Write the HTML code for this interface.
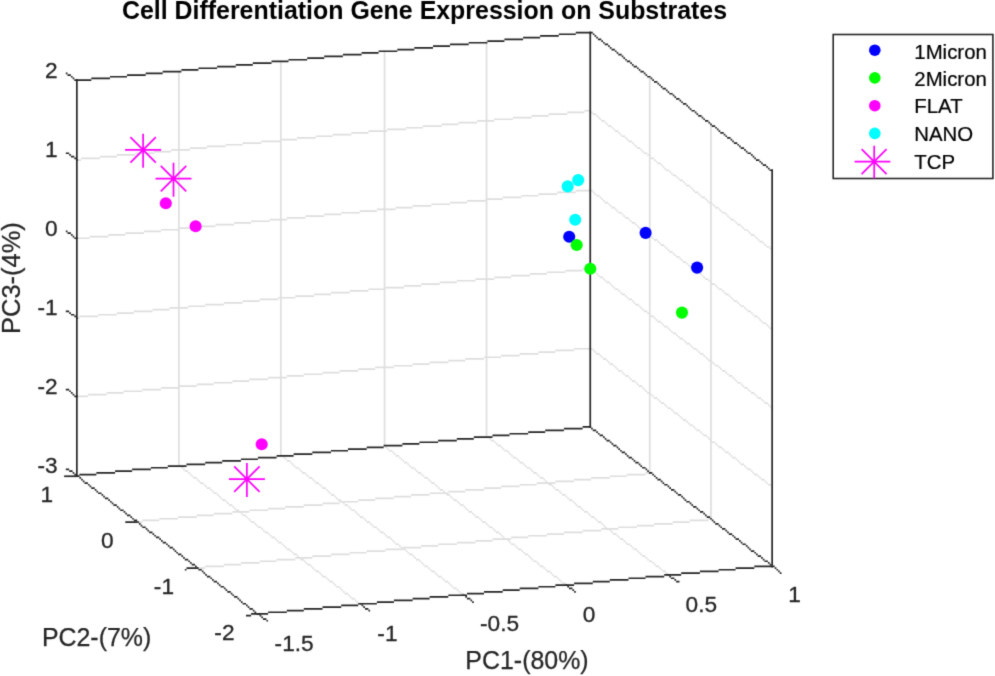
<!DOCTYPE html>
<html>
<head>
<meta charset="utf-8">
<title>Cell Differentiation Gene Expression on Substrates</title>
<style>
html,body{margin:0;padding:0;background:#fff;}
body{width:995px;height:676px;overflow:hidden;font-family:"Liberation Sans",sans-serif;}
svg{display:block;}
svg text{font-family:"Liberation Sans",sans-serif;fill:#262626;}
.g{stroke:#dfdfdf;stroke-width:1.6;fill:none;}
.b{stroke:#262626;stroke-width:1.6;fill:none;}
.gf{fill:#dedede;stroke:none;}
.bf{fill:#262626;stroke:none;}
.st{stroke-width:1.7;fill:none;}
.tl text{font-size:22.67px;stroke:#262626;stroke-width:0.3px;}
.al{font-size:24.93px;stroke:#262626;stroke-width:0.25px;}
.ti{font-size:24.93px;font-weight:bold;fill:#000;}
.lg{font-size:20.4px;fill:#000;stroke:#000;stroke-width:0.2px;}
</style>
</head>
<body>
<svg width="995" height="676" viewBox="0 0 995 676">
<defs><filter id="bl" x="0" y="0" width="100%" height="100%" filterUnits="userSpaceOnUse" color-interpolation-filters="sRGB"><feConvolveMatrix order="3" kernelMatrix="0.0169 0.0962 0.0169 0.0962 0.5476 0.0962 0.0169 0.0962 0.0169" divisor="1" edgeMode="duplicate" preserveAlpha="true"/></filter></defs>
<g filter="url(#bl)">
<rect x="-5" y="-5" width="1005" height="686" fill="#ffffff"/>
<g id="grid">
<path class="gf" d="M178 70.8h1.7v396.1h-1.7z"/>
<path class="gf" d="M280 60.6h1.7v396.1h-1.7z"/>
<path class="gf" d="M383.7 50.4h1.7v396.1h-1.7z"/>
<path class="gf" d="M485.7 40.2h1.7v397.8h-1.7z"/>
<path class="gf" d="M76 395.5h11.9v1.7h-11.9zM87.9 393.8h18.7v1.7h-18.7zM106.6 392.1h17v1.7h-17zM123.6 390.4h18.7v1.7h-18.7zM142.3 388.7h18.7v1.7h-18.7zM161 387h17v1.7h-17zM178 385.3h18.7v1.7h-18.7zM196.7 383.6h17v1.7h-17zM213.7 381.9h18.7v1.7h-18.7zM232.4 380.2h17v1.7h-17zM249.4 378.5h18.7v1.7h-18.7zM268.1 376.8h18.7v1.7h-18.7zM286.8 375.1h17v1.7h-17zM303.8 373.4h18.7v1.7h-18.7zM322.5 371.7h17v1.7h-17zM339.5 370h18.7v1.7h-18.7zM358.2 368.3h17v1.7h-17zM375.2 366.6h18.7v1.7h-18.7zM393.9 364.9h18.7v1.7h-18.7zM412.6 363.2h17v1.7h-17zM429.6 361.5h18.7v1.7h-18.7zM448.3 359.8h17v1.7h-17zM465.3 358.1h18.7v1.7h-18.7zM484 356.4h17v1.7h-17zM501 354.7h18.7v1.7h-18.7zM519.7 353h18.7v1.7h-18.7zM538.4 351.3h17v1.7h-17zM555.4 349.6h18.7v1.7h-18.7zM574.1 347.9h17v1.7h-17z"/>
<path class="gf" d="M76 317.3h3.4v1.7h-3.4zM79.4 315.6h18.7v1.7h-18.7zM98.1 313.9h18.7v1.7h-18.7zM116.8 312.2h17v1.7h-17zM133.8 310.5h18.7v1.7h-18.7zM152.5 308.8h17v1.7h-17zM169.5 307.1h18.7v1.7h-18.7zM188.2 305.4h17v1.7h-17zM205.2 303.7h18.7v1.7h-18.7zM223.9 302h18.7v1.7h-18.7zM242.6 300.3h17v1.7h-17zM259.6 298.6h18.7v1.7h-18.7zM278.3 296.9h17v1.7h-17zM295.3 295.2h18.7v1.7h-18.7zM314 293.5h17v1.7h-17zM331 291.8h18.7v1.7h-18.7zM349.7 290.1h18.7v1.7h-18.7zM368.4 288.4h17v1.7h-17zM385.4 286.7h18.7v1.7h-18.7zM404.1 285h17v1.7h-17zM421.1 283.3h18.7v1.7h-18.7zM439.8 281.6h17v1.7h-17zM456.8 279.9h18.7v1.7h-18.7zM475.5 278.2h18.7v1.7h-18.7zM494.2 276.5h17v1.7h-17zM511.2 274.8h18.7v1.7h-18.7zM529.9 273.1h17v1.7h-17zM546.9 271.4h18.7v1.7h-18.7zM565.6 269.7h17v1.7h-17zM582.6 268h8.5v1.7h-8.5z"/>
<path class="gf" d="M76 237.4h13.6v1.7h-13.6zM89.6 235.7h18.7v1.7h-18.7zM108.3 234h17v1.7h-17zM125.3 232.3h18.7v1.7h-18.7zM144 230.6h17v1.7h-17zM161 228.9h18.7v1.7h-18.7zM179.7 227.2h18.7v1.7h-18.7zM198.4 225.5h17v1.7h-17zM215.4 223.8h18.7v1.7h-18.7zM234.1 222.1h17v1.7h-17zM251.1 220.4h18.7v1.7h-18.7zM269.8 218.7h17v1.7h-17zM286.8 217h18.7v1.7h-18.7zM305.5 215.3h18.7v1.7h-18.7zM324.2 213.6h17v1.7h-17zM341.2 211.9h18.7v1.7h-18.7zM359.9 210.2h17v1.7h-17zM376.9 208.5h18.7v1.7h-18.7zM395.6 206.8h17v1.7h-17zM412.6 205.1h18.7v1.7h-18.7zM431.3 203.4h18.7v1.7h-18.7zM450 201.7h17v1.7h-17zM467 200h18.7v1.7h-18.7zM485.7 198.3h17v1.7h-17zM502.7 196.6h18.7v1.7h-18.7zM521.4 194.9h17v1.7h-17zM538.4 193.2h18.7v1.7h-18.7zM557.1 191.5h18.7v1.7h-18.7zM575.8 189.8h15.3v1.7h-15.3z"/>
<path class="gf" d="M76 159.2h5.1v1.7h-5.1zM81.1 157.5h18.7v1.7h-18.7zM99.8 155.8h17v1.7h-17zM116.8 154.1h18.7v1.7h-18.7zM135.5 152.4h18.7v1.7h-18.7zM154.2 150.7h17v1.7h-17zM171.2 149h18.7v1.7h-18.7zM189.9 147.3h17v1.7h-17zM206.9 145.6h18.7v1.7h-18.7zM225.6 143.9h17v1.7h-17zM242.6 142.2h18.7v1.7h-18.7zM261.3 140.5h18.7v1.7h-18.7zM280 138.8h17v1.7h-17zM297 137.1h18.7v1.7h-18.7zM315.7 135.4h17v1.7h-17zM332.7 133.7h18.7v1.7h-18.7zM351.4 132h17v1.7h-17zM368.4 130.3h18.7v1.7h-18.7zM387.1 128.6h18.7v1.7h-18.7zM405.8 126.9h17v1.7h-17zM422.8 125.2h18.7v1.7h-18.7zM441.5 123.5h17v1.7h-17zM458.5 121.8h18.7v1.7h-18.7zM477.2 120.1h17v1.7h-17zM494.2 118.4h18.7v1.7h-18.7zM512.9 116.7h18.7v1.7h-18.7zM531.6 115h17v1.7h-17zM548.6 113.3h18.7v1.7h-18.7zM567.3 111.6h17v1.7h-17zM584.3 109.9h6.8v1.7h-6.8z"/>
<path class="gf" d="M648.9 77.6h1.7v396.1h-1.7z"/>
<path class="gf" d="M710.1 123.5h1.7v396.1h-1.7z"/>
<path class="gf" d="M589.4 347.9h3.4v1.7h-3.4zM592.8 349.6h1.7v1.7h-1.7zM594.5 351.3h1.7v1.7h-1.7zM596.2 353h3.4v1.7h-3.4zM599.6 354.7h1.7v1.7h-1.7zM601.3 356.4h1.7v1.7h-1.7zM603 358.1h3.4v1.7h-3.4zM606.4 359.8h1.7v1.7h-1.7zM608.1 361.5h1.7v1.7h-1.7zM609.8 363.2h3.4v1.7h-3.4zM613.2 364.9h1.7v1.7h-1.7zM614.9 366.6h1.7v1.7h-1.7zM616.6 368.3h1.7v1.7h-1.7zM618.3 370h3.4v1.7h-3.4zM621.7 371.7h1.7v1.7h-1.7zM623.4 373.4h1.7v1.7h-1.7zM625.1 375.1h3.4v1.7h-3.4zM628.5 376.8h1.7v1.7h-1.7zM630.2 378.5h1.7v1.7h-1.7zM631.9 380.2h3.4v1.7h-3.4zM635.3 381.9h1.7v1.7h-1.7zM637 383.6h1.7v1.7h-1.7zM638.7 385.3h3.4v1.7h-3.4zM642.1 387h1.7v1.7h-1.7zM643.8 388.7h1.7v1.7h-1.7zM645.5 390.4h1.7v1.7h-1.7zM647.2 392.1h3.4v1.7h-3.4zM650.6 393.8h1.7v1.7h-1.7zM652.3 395.5h1.7v1.7h-1.7zM654 397.2h3.4v1.7h-3.4zM657.4 398.9h1.7v1.7h-1.7zM659.1 400.6h1.7v1.7h-1.7zM660.8 402.3h3.4v1.7h-3.4zM664.2 404h1.7v1.7h-1.7zM665.9 405.7h1.7v1.7h-1.7zM667.6 407.4h3.4v1.7h-3.4zM671 409.1h1.7v1.7h-1.7zM672.7 410.8h1.7v1.7h-1.7zM674.4 412.5h3.4v1.7h-3.4zM677.8 414.2h1.7v1.7h-1.7zM679.5 415.9h1.7v1.7h-1.7zM681.2 417.6h1.7v1.7h-1.7zM682.9 419.3h3.4v1.7h-3.4zM686.3 421h1.7v1.7h-1.7zM688 422.7h1.7v1.7h-1.7zM689.7 424.4h3.4v1.7h-3.4zM693.1 426.1h1.7v1.7h-1.7zM694.8 427.8h1.7v1.7h-1.7zM696.5 429.5h3.4v1.7h-3.4zM699.9 431.2h1.7v1.7h-1.7zM701.6 432.9h1.7v1.7h-1.7zM703.3 434.6h3.4v1.7h-3.4zM706.7 436.3h1.7v1.7h-1.7zM708.4 438h1.7v1.7h-1.7zM710.1 439.7h1.7v1.7h-1.7zM711.8 441.4h3.4v1.7h-3.4zM715.2 443.1h1.7v1.7h-1.7zM716.9 444.8h1.7v1.7h-1.7zM718.6 446.5h3.4v1.7h-3.4zM722 448.2h1.7v1.7h-1.7zM723.7 449.9h1.7v1.7h-1.7zM725.4 451.6h3.4v1.7h-3.4zM728.8 453.3h1.7v1.7h-1.7zM730.5 455h1.7v1.7h-1.7zM732.2 456.7h3.4v1.7h-3.4zM735.6 458.4h1.7v1.7h-1.7zM737.3 460.1h1.7v1.7h-1.7zM739 461.8h1.7v1.7h-1.7zM740.7 463.5h3.4v1.7h-3.4zM744.1 465.2h1.7v1.7h-1.7zM745.8 466.9h1.7v1.7h-1.7zM747.5 468.6h3.4v1.7h-3.4zM750.9 470.3h1.7v1.7h-1.7zM752.6 472h1.7v1.7h-1.7zM754.3 473.7h3.4v1.7h-3.4zM757.7 475.4h1.7v1.7h-1.7zM759.4 477.1h1.7v1.7h-1.7zM761.1 478.8h3.4v1.7h-3.4zM764.5 480.5h1.7v1.7h-1.7zM766.2 482.2h1.7v1.7h-1.7zM767.9 483.9h3.4v1.7h-3.4zM771.3 485.6h1.7v1.7h-1.7z"/>
<path class="gf" d="M589.4 268h1.7v1.7h-1.7zM591.1 269.7h1.7v1.7h-1.7zM592.8 271.4h3.4v1.7h-3.4zM596.2 273.1h1.7v1.7h-1.7zM597.9 274.8h1.7v1.7h-1.7zM599.6 276.5h3.4v1.7h-3.4zM603 278.2h1.7v1.7h-1.7zM604.7 279.9h1.7v1.7h-1.7zM606.4 281.6h3.4v1.7h-3.4zM609.8 283.3h1.7v1.7h-1.7zM611.5 285h1.7v1.7h-1.7zM613.2 286.7h1.7v1.7h-1.7zM614.9 288.4h3.4v1.7h-3.4zM618.3 290.1h1.7v1.7h-1.7zM620 291.8h1.7v1.7h-1.7zM621.7 293.5h3.4v1.7h-3.4zM625.1 295.2h1.7v1.7h-1.7zM626.8 296.9h1.7v1.7h-1.7zM628.5 298.6h3.4v1.7h-3.4zM631.9 300.3h1.7v1.7h-1.7zM633.6 302h1.7v1.7h-1.7zM635.3 303.7h3.4v1.7h-3.4zM638.7 305.4h1.7v1.7h-1.7zM640.4 307.1h1.7v1.7h-1.7zM642.1 308.8h1.7v1.7h-1.7zM643.8 310.5h3.4v1.7h-3.4zM647.2 312.2h1.7v1.7h-1.7zM648.9 313.9h1.7v1.7h-1.7zM650.6 315.6h3.4v1.7h-3.4zM654 317.3h1.7v1.7h-1.7zM655.7 319h1.7v1.7h-1.7zM657.4 320.7h3.4v1.7h-3.4zM660.8 322.4h1.7v1.7h-1.7zM662.5 324.1h1.7v1.7h-1.7zM664.2 325.8h3.4v1.7h-3.4zM667.6 327.5h1.7v1.7h-1.7zM669.3 329.2h1.7v1.7h-1.7zM671 330.9h1.7v1.7h-1.7zM672.7 332.6h3.4v1.7h-3.4zM676.1 334.3h1.7v1.7h-1.7zM677.8 336h1.7v1.7h-1.7zM679.5 337.7h3.4v1.7h-3.4zM682.9 339.4h1.7v1.7h-1.7zM684.6 341.1h1.7v1.7h-1.7zM686.3 342.8h3.4v1.7h-3.4zM689.7 344.5h1.7v1.7h-1.7zM691.4 346.2h1.7v1.7h-1.7zM693.1 347.9h3.4v1.7h-3.4zM696.5 349.6h1.7v1.7h-1.7zM698.2 351.3h1.7v1.7h-1.7zM699.9 353h3.4v1.7h-3.4zM703.3 354.7h1.7v1.7h-1.7zM705 356.4h1.7v1.7h-1.7zM706.7 358.1h1.7v1.7h-1.7zM708.4 359.8h3.4v1.7h-3.4zM711.8 361.5h1.7v1.7h-1.7zM713.5 363.2h1.7v1.7h-1.7zM715.2 364.9h3.4v1.7h-3.4zM718.6 366.6h1.7v1.7h-1.7zM720.3 368.3h1.7v1.7h-1.7zM722 370h3.4v1.7h-3.4zM725.4 371.7h1.7v1.7h-1.7zM727.1 373.4h1.7v1.7h-1.7zM728.8 375.1h3.4v1.7h-3.4zM732.2 376.8h1.7v1.7h-1.7zM733.9 378.5h1.7v1.7h-1.7zM735.6 380.2h1.7v1.7h-1.7zM737.3 381.9h3.4v1.7h-3.4zM740.7 383.6h1.7v1.7h-1.7zM742.4 385.3h1.7v1.7h-1.7zM744.1 387h3.4v1.7h-3.4zM747.5 388.7h1.7v1.7h-1.7zM749.2 390.4h1.7v1.7h-1.7zM750.9 392.1h3.4v1.7h-3.4zM754.3 393.8h1.7v1.7h-1.7zM756 395.5h1.7v1.7h-1.7zM757.7 397.2h3.4v1.7h-3.4zM761.1 398.9h1.7v1.7h-1.7zM762.8 400.6h1.7v1.7h-1.7zM764.5 402.3h3.4v1.7h-3.4zM767.9 404h1.7v1.7h-1.7zM769.6 405.7h1.7v1.7h-1.7zM771.3 407.4h1.7v1.7h-1.7z"/>
<path class="gf" d="M589.4 189.8h3.4v1.7h-3.4zM592.8 191.5h1.7v1.7h-1.7zM594.5 193.2h1.7v1.7h-1.7zM596.2 194.9h3.4v1.7h-3.4zM599.6 196.6h1.7v1.7h-1.7zM601.3 198.3h1.7v1.7h-1.7zM603 200h1.7v1.7h-1.7zM604.7 201.7h3.4v1.7h-3.4zM608.1 203.4h1.7v1.7h-1.7zM609.8 205.1h1.7v1.7h-1.7zM611.5 206.8h3.4v1.7h-3.4zM614.9 208.5h1.7v1.7h-1.7zM616.6 210.2h1.7v1.7h-1.7zM618.3 211.9h3.4v1.7h-3.4zM621.7 213.6h1.7v1.7h-1.7zM623.4 215.3h1.7v1.7h-1.7zM625.1 217h3.4v1.7h-3.4zM628.5 218.7h1.7v1.7h-1.7zM630.2 220.4h1.7v1.7h-1.7zM631.9 222.1h3.4v1.7h-3.4zM635.3 223.8h1.7v1.7h-1.7zM637 225.5h1.7v1.7h-1.7zM638.7 227.2h1.7v1.7h-1.7zM640.4 228.9h3.4v1.7h-3.4zM643.8 230.6h1.7v1.7h-1.7zM645.5 232.3h1.7v1.7h-1.7zM647.2 234h3.4v1.7h-3.4zM650.6 235.7h1.7v1.7h-1.7zM652.3 237.4h1.7v1.7h-1.7zM654 239.1h3.4v1.7h-3.4zM657.4 240.8h1.7v1.7h-1.7zM659.1 242.5h1.7v1.7h-1.7zM660.8 244.2h3.4v1.7h-3.4zM664.2 245.9h1.7v1.7h-1.7zM665.9 247.6h1.7v1.7h-1.7zM667.6 249.3h1.7v1.7h-1.7zM669.3 251h3.4v1.7h-3.4zM672.7 252.7h1.7v1.7h-1.7zM674.4 254.4h1.7v1.7h-1.7zM676.1 256.1h3.4v1.7h-3.4zM679.5 257.8h1.7v1.7h-1.7zM681.2 259.5h1.7v1.7h-1.7zM682.9 261.2h3.4v1.7h-3.4zM686.3 262.9h1.7v1.7h-1.7zM688 264.6h1.7v1.7h-1.7zM689.7 266.3h3.4v1.7h-3.4zM693.1 268h1.7v1.7h-1.7zM694.8 269.7h1.7v1.7h-1.7zM696.5 271.4h3.4v1.7h-3.4zM699.9 273.1h1.7v1.7h-1.7zM701.6 274.8h1.7v1.7h-1.7zM703.3 276.5h1.7v1.7h-1.7zM705 278.2h3.4v1.7h-3.4zM708.4 279.9h1.7v1.7h-1.7zM710.1 281.6h1.7v1.7h-1.7zM711.8 283.3h3.4v1.7h-3.4zM715.2 285h1.7v1.7h-1.7zM716.9 286.7h1.7v1.7h-1.7zM718.6 288.4h3.4v1.7h-3.4zM722 290.1h1.7v1.7h-1.7zM723.7 291.8h1.7v1.7h-1.7zM725.4 293.5h3.4v1.7h-3.4zM728.8 295.2h1.7v1.7h-1.7zM730.5 296.9h1.7v1.7h-1.7zM732.2 298.6h1.7v1.7h-1.7zM733.9 300.3h3.4v1.7h-3.4zM737.3 302h1.7v1.7h-1.7zM739 303.7h1.7v1.7h-1.7zM740.7 305.4h3.4v1.7h-3.4zM744.1 307.1h1.7v1.7h-1.7zM745.8 308.8h1.7v1.7h-1.7zM747.5 310.5h3.4v1.7h-3.4zM750.9 312.2h1.7v1.7h-1.7zM752.6 313.9h1.7v1.7h-1.7zM754.3 315.6h3.4v1.7h-3.4zM757.7 317.3h1.7v1.7h-1.7zM759.4 319h1.7v1.7h-1.7zM761.1 320.7h1.7v1.7h-1.7zM762.8 322.4h3.4v1.7h-3.4zM766.2 324.1h1.7v1.7h-1.7zM767.9 325.8h1.7v1.7h-1.7zM769.6 327.5h3.4v1.7h-3.4z"/>
<path class="gf" d="M589.4 109.9h1.7v1.7h-1.7zM591.1 111.6h1.7v1.7h-1.7zM592.8 113.3h3.4v1.7h-3.4zM596.2 115h1.7v1.7h-1.7zM597.9 116.7h1.7v1.7h-1.7zM599.6 118.4h1.7v1.7h-1.7zM601.3 120.1h3.4v1.7h-3.4zM604.7 121.8h1.7v1.7h-1.7zM606.4 123.5h1.7v1.7h-1.7zM608.1 125.2h3.4v1.7h-3.4zM611.5 126.9h1.7v1.7h-1.7zM613.2 128.6h1.7v1.7h-1.7zM614.9 130.3h3.4v1.7h-3.4zM618.3 132h1.7v1.7h-1.7zM620 133.7h1.7v1.7h-1.7zM621.7 135.4h3.4v1.7h-3.4zM625.1 137.1h1.7v1.7h-1.7zM626.8 138.8h1.7v1.7h-1.7zM628.5 140.5h3.4v1.7h-3.4zM631.9 142.2h1.7v1.7h-1.7zM633.6 143.9h1.7v1.7h-1.7zM635.3 145.6h1.7v1.7h-1.7zM637 147.3h3.4v1.7h-3.4zM640.4 149h1.7v1.7h-1.7zM642.1 150.7h1.7v1.7h-1.7zM643.8 152.4h3.4v1.7h-3.4zM647.2 154.1h1.7v1.7h-1.7zM648.9 155.8h1.7v1.7h-1.7zM650.6 157.5h3.4v1.7h-3.4zM654 159.2h1.7v1.7h-1.7zM655.7 160.9h1.7v1.7h-1.7zM657.4 162.6h3.4v1.7h-3.4zM660.8 164.3h1.7v1.7h-1.7zM662.5 166h1.7v1.7h-1.7zM664.2 167.7h1.7v1.7h-1.7zM665.9 169.4h3.4v1.7h-3.4zM669.3 171.1h1.7v1.7h-1.7zM671 172.8h1.7v1.7h-1.7zM672.7 174.5h3.4v1.7h-3.4zM676.1 176.2h1.7v1.7h-1.7zM677.8 177.9h1.7v1.7h-1.7zM679.5 179.6h3.4v1.7h-3.4zM682.9 181.3h1.7v1.7h-1.7zM684.6 183h1.7v1.7h-1.7zM686.3 184.7h3.4v1.7h-3.4zM689.7 186.4h1.7v1.7h-1.7zM691.4 188.1h1.7v1.7h-1.7zM693.1 189.8h1.7v1.7h-1.7zM694.8 191.5h3.4v1.7h-3.4zM698.2 193.2h1.7v1.7h-1.7zM699.9 194.9h1.7v1.7h-1.7zM701.6 196.6h3.4v1.7h-3.4zM705 198.3h1.7v1.7h-1.7zM706.7 200h1.7v1.7h-1.7zM708.4 201.7h3.4v1.7h-3.4zM711.8 203.4h1.7v1.7h-1.7zM713.5 205.1h1.7v1.7h-1.7zM715.2 206.8h3.4v1.7h-3.4zM718.6 208.5h1.7v1.7h-1.7zM720.3 210.2h1.7v1.7h-1.7zM722 211.9h3.4v1.7h-3.4zM725.4 213.6h1.7v1.7h-1.7zM727.1 215.3h1.7v1.7h-1.7zM728.8 217h1.7v1.7h-1.7zM730.5 218.7h3.4v1.7h-3.4zM733.9 220.4h1.7v1.7h-1.7zM735.6 222.1h1.7v1.7h-1.7zM737.3 223.8h3.4v1.7h-3.4zM740.7 225.5h1.7v1.7h-1.7zM742.4 227.2h1.7v1.7h-1.7zM744.1 228.9h3.4v1.7h-3.4zM747.5 230.6h1.7v1.7h-1.7zM749.2 232.3h1.7v1.7h-1.7zM750.9 234h3.4v1.7h-3.4zM754.3 235.7h1.7v1.7h-1.7zM756 237.4h1.7v1.7h-1.7zM757.7 239.1h1.7v1.7h-1.7zM759.4 240.8h3.4v1.7h-3.4zM762.8 242.5h1.7v1.7h-1.7zM764.5 244.2h1.7v1.7h-1.7zM766.2 245.9h3.4v1.7h-3.4zM769.6 247.6h1.7v1.7h-1.7zM771.3 249.3h1.7v1.7h-1.7z"/>
<path class="gf" d="M178 465.2h3.4v1.7h-3.4zM181.4 466.9h1.7v1.7h-1.7zM183.1 468.6h1.7v1.7h-1.7zM184.8 470.3h3.4v1.7h-3.4zM188.2 472h1.7v1.7h-1.7zM189.9 473.7h1.7v1.7h-1.7zM191.6 475.4h1.7v1.7h-1.7zM193.3 477.1h3.4v1.7h-3.4zM196.7 478.8h1.7v1.7h-1.7zM198.4 480.5h1.7v1.7h-1.7zM200.1 482.2h3.4v1.7h-3.4zM203.5 483.9h1.7v1.7h-1.7zM205.2 485.6h1.7v1.7h-1.7zM206.9 487.3h3.4v1.7h-3.4zM210.3 489h1.7v1.7h-1.7zM212 490.7h1.7v1.7h-1.7zM213.7 492.4h3.4v1.7h-3.4zM217.1 494.1h1.7v1.7h-1.7zM218.8 495.8h1.7v1.7h-1.7zM220.5 497.5h1.7v1.7h-1.7zM222.2 499.2h3.4v1.7h-3.4zM225.6 500.9h1.7v1.7h-1.7zM227.3 502.6h1.7v1.7h-1.7zM229 504.3h3.4v1.7h-3.4zM232.4 506h1.7v1.7h-1.7zM234.1 507.7h1.7v1.7h-1.7zM235.8 509.4h3.4v1.7h-3.4zM239.2 511.1h1.7v1.7h-1.7zM240.9 512.8h1.7v1.7h-1.7zM242.6 514.5h3.4v1.7h-3.4zM246 516.2h1.7v1.7h-1.7zM247.7 517.9h1.7v1.7h-1.7zM249.4 519.6h1.7v1.7h-1.7zM251.1 521.3h3.4v1.7h-3.4zM254.5 523h1.7v1.7h-1.7zM256.2 524.7h1.7v1.7h-1.7zM257.9 526.4h3.4v1.7h-3.4zM261.3 528.1h1.7v1.7h-1.7zM263 529.8h1.7v1.7h-1.7zM264.7 531.5h3.4v1.7h-3.4zM268.1 533.2h1.7v1.7h-1.7zM269.8 534.9h1.7v1.7h-1.7zM271.5 536.6h3.4v1.7h-3.4zM274.9 538.3h1.7v1.7h-1.7zM276.6 540h1.7v1.7h-1.7zM278.3 541.7h3.4v1.7h-3.4zM281.7 543.4h1.7v1.7h-1.7zM283.4 545.1h1.7v1.7h-1.7zM285.1 546.8h1.7v1.7h-1.7zM286.8 548.5h3.4v1.7h-3.4zM290.2 550.2h1.7v1.7h-1.7zM291.9 551.9h1.7v1.7h-1.7zM293.6 553.6h3.4v1.7h-3.4zM297 555.3h1.7v1.7h-1.7zM298.7 557h1.7v1.7h-1.7zM300.4 558.7h3.4v1.7h-3.4zM303.8 560.4h1.7v1.7h-1.7zM305.5 562.1h1.7v1.7h-1.7zM307.2 563.8h3.4v1.7h-3.4zM310.6 565.5h1.7v1.7h-1.7zM312.3 567.2h1.7v1.7h-1.7zM314 568.9h1.7v1.7h-1.7zM315.7 570.6h3.4v1.7h-3.4zM319.1 572.3h1.7v1.7h-1.7zM320.8 574h1.7v1.7h-1.7zM322.5 575.7h3.4v1.7h-3.4zM325.9 577.4h1.7v1.7h-1.7zM327.6 579.1h1.7v1.7h-1.7zM329.3 580.8h3.4v1.7h-3.4zM332.7 582.5h1.7v1.7h-1.7zM334.4 584.2h1.7v1.7h-1.7zM336.1 585.9h3.4v1.7h-3.4zM339.5 587.6h1.7v1.7h-1.7zM341.2 589.3h1.7v1.7h-1.7zM342.9 591h1.7v1.7h-1.7zM344.6 592.7h3.4v1.7h-3.4zM348 594.4h1.7v1.7h-1.7zM349.7 596.1h1.7v1.7h-1.7zM351.4 597.8h3.4v1.7h-3.4zM354.8 599.5h1.7v1.7h-1.7zM356.5 601.2h1.7v1.7h-1.7zM358.2 602.9h3.4v1.7h-3.4z"/>
<path class="gf" d="M281.7 455h1.7v1.7h-1.7zM283.4 456.7h1.7v1.7h-1.7zM285.1 458.4h1.7v1.7h-1.7zM286.8 460.1h3.4v1.7h-3.4zM290.2 461.8h1.7v1.7h-1.7zM291.9 463.5h1.7v1.7h-1.7zM293.6 465.2h1.7v1.7h-1.7zM295.3 466.9h3.4v1.7h-3.4zM298.7 468.6h1.7v1.7h-1.7zM300.4 470.3h1.7v1.7h-1.7zM302.1 472h3.4v1.7h-3.4zM305.5 473.7h1.7v1.7h-1.7zM307.2 475.4h1.7v1.7h-1.7zM308.9 477.1h3.4v1.7h-3.4zM312.3 478.8h1.7v1.7h-1.7zM314 480.5h1.7v1.7h-1.7zM315.7 482.2h3.4v1.7h-3.4zM319.1 483.9h1.7v1.7h-1.7zM320.8 485.6h1.7v1.7h-1.7zM322.5 487.3h3.4v1.7h-3.4zM325.9 489h1.7v1.7h-1.7zM327.6 490.7h1.7v1.7h-1.7zM329.3 492.4h1.7v1.7h-1.7zM331 494.1h3.4v1.7h-3.4zM334.4 495.8h1.7v1.7h-1.7zM336.1 497.5h1.7v1.7h-1.7zM337.8 499.2h3.4v1.7h-3.4zM341.2 500.9h1.7v1.7h-1.7zM342.9 502.6h1.7v1.7h-1.7zM344.6 504.3h3.4v1.7h-3.4zM348 506h1.7v1.7h-1.7zM349.7 507.7h1.7v1.7h-1.7zM351.4 509.4h3.4v1.7h-3.4zM354.8 511.1h1.7v1.7h-1.7zM356.5 512.8h1.7v1.7h-1.7zM358.2 514.5h1.7v1.7h-1.7zM359.9 516.2h3.4v1.7h-3.4zM363.3 517.9h1.7v1.7h-1.7zM365 519.6h1.7v1.7h-1.7zM366.7 521.3h3.4v1.7h-3.4zM370.1 523h1.7v1.7h-1.7zM371.8 524.7h1.7v1.7h-1.7zM373.5 526.4h3.4v1.7h-3.4zM376.9 528.1h1.7v1.7h-1.7zM378.6 529.8h1.7v1.7h-1.7zM380.3 531.5h3.4v1.7h-3.4zM383.7 533.2h1.7v1.7h-1.7zM385.4 534.9h1.7v1.7h-1.7zM387.1 536.6h3.4v1.7h-3.4zM390.5 538.3h1.7v1.7h-1.7zM392.2 540h1.7v1.7h-1.7zM393.9 541.7h1.7v1.7h-1.7zM395.6 543.4h3.4v1.7h-3.4zM399 545.1h1.7v1.7h-1.7zM400.7 546.8h1.7v1.7h-1.7zM402.4 548.5h3.4v1.7h-3.4zM405.8 550.2h1.7v1.7h-1.7zM407.5 551.9h1.7v1.7h-1.7zM409.2 553.6h3.4v1.7h-3.4zM412.6 555.3h1.7v1.7h-1.7zM414.3 557h1.7v1.7h-1.7zM416 558.7h3.4v1.7h-3.4zM419.4 560.4h1.7v1.7h-1.7zM421.1 562.1h1.7v1.7h-1.7zM422.8 563.8h1.7v1.7h-1.7zM424.5 565.5h3.4v1.7h-3.4zM427.9 567.2h1.7v1.7h-1.7zM429.6 568.9h1.7v1.7h-1.7zM431.3 570.6h3.4v1.7h-3.4zM434.7 572.3h1.7v1.7h-1.7zM436.4 574h1.7v1.7h-1.7zM438.1 575.7h3.4v1.7h-3.4zM441.5 577.4h1.7v1.7h-1.7zM443.2 579.1h1.7v1.7h-1.7zM444.9 580.8h3.4v1.7h-3.4zM448.3 582.5h1.7v1.7h-1.7zM450 584.2h1.7v1.7h-1.7zM451.7 585.9h1.7v1.7h-1.7zM453.4 587.6h3.4v1.7h-3.4zM456.8 589.3h1.7v1.7h-1.7zM458.5 591h1.7v1.7h-1.7zM460.2 592.7h3.4v1.7h-3.4z"/>
<path class="gf" d="M383.7 444.8h1.7v1.7h-1.7zM385.4 446.5h1.7v1.7h-1.7zM387.1 448.2h1.7v1.7h-1.7zM388.8 449.9h3.4v1.7h-3.4zM392.2 451.6h1.7v1.7h-1.7zM393.9 453.3h1.7v1.7h-1.7zM395.6 455h3.4v1.7h-3.4zM399 456.7h1.7v1.7h-1.7zM400.7 458.4h1.7v1.7h-1.7zM402.4 460.1h1.7v1.7h-1.7zM404.1 461.8h3.4v1.7h-3.4zM407.5 463.5h1.7v1.7h-1.7zM409.2 465.2h1.7v1.7h-1.7zM410.9 466.9h3.4v1.7h-3.4zM414.3 468.6h1.7v1.7h-1.7zM416 470.3h1.7v1.7h-1.7zM417.7 472h3.4v1.7h-3.4zM421.1 473.7h1.7v1.7h-1.7zM422.8 475.4h1.7v1.7h-1.7zM424.5 477.1h3.4v1.7h-3.4zM427.9 478.8h1.7v1.7h-1.7zM429.6 480.5h1.7v1.7h-1.7zM431.3 482.2h3.4v1.7h-3.4zM434.7 483.9h1.7v1.7h-1.7zM436.4 485.6h1.7v1.7h-1.7zM438.1 487.3h1.7v1.7h-1.7zM439.8 489h3.4v1.7h-3.4zM443.2 490.7h1.7v1.7h-1.7zM444.9 492.4h1.7v1.7h-1.7zM446.6 494.1h3.4v1.7h-3.4zM450 495.8h1.7v1.7h-1.7zM451.7 497.5h1.7v1.7h-1.7zM453.4 499.2h3.4v1.7h-3.4zM456.8 500.9h1.7v1.7h-1.7zM458.5 502.6h1.7v1.7h-1.7zM460.2 504.3h3.4v1.7h-3.4zM463.6 506h1.7v1.7h-1.7zM465.3 507.7h1.7v1.7h-1.7zM467 509.4h1.7v1.7h-1.7zM468.7 511.1h3.4v1.7h-3.4zM472.1 512.8h1.7v1.7h-1.7zM473.8 514.5h1.7v1.7h-1.7zM475.5 516.2h3.4v1.7h-3.4zM478.9 517.9h1.7v1.7h-1.7zM480.6 519.6h1.7v1.7h-1.7zM482.3 521.3h3.4v1.7h-3.4zM485.7 523h1.7v1.7h-1.7zM487.4 524.7h1.7v1.7h-1.7zM489.1 526.4h3.4v1.7h-3.4zM492.5 528.1h1.7v1.7h-1.7zM494.2 529.8h1.7v1.7h-1.7zM495.9 531.5h3.4v1.7h-3.4zM499.3 533.2h1.7v1.7h-1.7zM501 534.9h1.7v1.7h-1.7zM502.7 536.6h1.7v1.7h-1.7zM504.4 538.3h3.4v1.7h-3.4zM507.8 540h1.7v1.7h-1.7zM509.5 541.7h1.7v1.7h-1.7zM511.2 543.4h3.4v1.7h-3.4zM514.6 545.1h1.7v1.7h-1.7zM516.3 546.8h1.7v1.7h-1.7zM518 548.5h3.4v1.7h-3.4zM521.4 550.2h1.7v1.7h-1.7zM523.1 551.9h1.7v1.7h-1.7zM524.8 553.6h3.4v1.7h-3.4zM528.2 555.3h1.7v1.7h-1.7zM529.9 557h1.7v1.7h-1.7zM531.6 558.7h1.7v1.7h-1.7zM533.3 560.4h3.4v1.7h-3.4zM536.7 562.1h1.7v1.7h-1.7zM538.4 563.8h1.7v1.7h-1.7zM540.1 565.5h3.4v1.7h-3.4zM543.5 567.2h1.7v1.7h-1.7zM545.2 568.9h1.7v1.7h-1.7zM546.9 570.6h3.4v1.7h-3.4zM550.3 572.3h1.7v1.7h-1.7zM552 574h1.7v1.7h-1.7zM553.7 575.7h3.4v1.7h-3.4zM557.1 577.4h1.7v1.7h-1.7zM558.8 579.1h1.7v1.7h-1.7zM560.5 580.8h1.7v1.7h-1.7zM562.2 582.5h3.4v1.7h-3.4zM565.6 584.2h1.7v1.7h-1.7z"/>
<path class="gf" d="M487.4 436.3h1.7v1.7h-1.7zM489.1 438h1.7v1.7h-1.7zM490.8 439.7h3.4v1.7h-3.4zM494.2 441.4h1.7v1.7h-1.7zM495.9 443.1h1.7v1.7h-1.7zM497.6 444.8h3.4v1.7h-3.4zM501 446.5h1.7v1.7h-1.7zM502.7 448.2h1.7v1.7h-1.7zM504.4 449.9h3.4v1.7h-3.4zM507.8 451.6h1.7v1.7h-1.7zM509.5 453.3h1.7v1.7h-1.7zM511.2 455h1.7v1.7h-1.7zM512.9 456.7h3.4v1.7h-3.4zM516.3 458.4h1.7v1.7h-1.7zM518 460.1h1.7v1.7h-1.7zM519.7 461.8h3.4v1.7h-3.4zM523.1 463.5h1.7v1.7h-1.7zM524.8 465.2h1.7v1.7h-1.7zM526.5 466.9h3.4v1.7h-3.4zM529.9 468.6h1.7v1.7h-1.7zM531.6 470.3h1.7v1.7h-1.7zM533.3 472h3.4v1.7h-3.4zM536.7 473.7h1.7v1.7h-1.7zM538.4 475.4h1.7v1.7h-1.7zM540.1 477.1h3.4v1.7h-3.4zM543.5 478.8h1.7v1.7h-1.7zM545.2 480.5h1.7v1.7h-1.7zM546.9 482.2h1.7v1.7h-1.7zM548.6 483.9h3.4v1.7h-3.4zM552 485.6h1.7v1.7h-1.7zM553.7 487.3h1.7v1.7h-1.7zM555.4 489h3.4v1.7h-3.4zM558.8 490.7h1.7v1.7h-1.7zM560.5 492.4h1.7v1.7h-1.7zM562.2 494.1h3.4v1.7h-3.4zM565.6 495.8h1.7v1.7h-1.7zM567.3 497.5h1.7v1.7h-1.7zM569 499.2h3.4v1.7h-3.4zM572.4 500.9h1.7v1.7h-1.7zM574.1 502.6h1.7v1.7h-1.7zM575.8 504.3h1.7v1.7h-1.7zM577.5 506h3.4v1.7h-3.4zM580.9 507.7h1.7v1.7h-1.7zM582.6 509.4h1.7v1.7h-1.7zM584.3 511.1h3.4v1.7h-3.4zM587.7 512.8h1.7v1.7h-1.7zM589.4 514.5h1.7v1.7h-1.7zM591.1 516.2h3.4v1.7h-3.4zM594.5 517.9h1.7v1.7h-1.7zM596.2 519.6h1.7v1.7h-1.7zM597.9 521.3h3.4v1.7h-3.4zM601.3 523h1.7v1.7h-1.7zM603 524.7h1.7v1.7h-1.7zM604.7 526.4h1.7v1.7h-1.7zM606.4 528.1h3.4v1.7h-3.4zM609.8 529.8h1.7v1.7h-1.7zM611.5 531.5h1.7v1.7h-1.7zM613.2 533.2h3.4v1.7h-3.4zM616.6 534.9h1.7v1.7h-1.7zM618.3 536.6h1.7v1.7h-1.7zM620 538.3h3.4v1.7h-3.4zM623.4 540h1.7v1.7h-1.7zM625.1 541.7h1.7v1.7h-1.7zM626.8 543.4h3.4v1.7h-3.4zM630.2 545.1h1.7v1.7h-1.7zM631.9 546.8h1.7v1.7h-1.7zM633.6 548.5h3.4v1.7h-3.4zM637 550.2h1.7v1.7h-1.7zM638.7 551.9h1.7v1.7h-1.7zM640.4 553.6h1.7v1.7h-1.7zM642.1 555.3h3.4v1.7h-3.4zM645.5 557h1.7v1.7h-1.7zM647.2 558.7h1.7v1.7h-1.7zM648.9 560.4h3.4v1.7h-3.4zM652.3 562.1h1.7v1.7h-1.7zM654 563.8h1.7v1.7h-1.7zM655.7 565.5h3.4v1.7h-3.4zM659.1 567.2h1.7v1.7h-1.7zM660.8 568.9h1.7v1.7h-1.7zM662.5 570.6h3.4v1.7h-3.4zM665.9 572.3h1.7v1.7h-1.7zM667.6 574h1.7v1.7h-1.7z"/>
<path class="gf" d="M135.5 521.3h6.8v1.7h-6.8zM142.3 519.6h17v1.7h-17zM159.3 517.9h18.7v1.7h-18.7zM178 516.2h18.7v1.7h-18.7zM196.7 514.5h17v1.7h-17zM213.7 512.8h18.7v1.7h-18.7zM232.4 511.1h17v1.7h-17zM249.4 509.4h18.7v1.7h-18.7zM268.1 507.7h17v1.7h-17zM285.1 506h18.7v1.7h-18.7zM303.8 504.3h18.7v1.7h-18.7zM322.5 502.6h17v1.7h-17zM339.5 500.9h18.7v1.7h-18.7zM358.2 499.2h17v1.7h-17zM375.2 497.5h18.7v1.7h-18.7zM393.9 495.8h17v1.7h-17zM410.9 494.1h18.7v1.7h-18.7zM429.6 492.4h18.7v1.7h-18.7zM448.3 490.7h17v1.7h-17zM465.3 489h18.7v1.7h-18.7zM484 487.3h17v1.7h-17zM501 485.6h18.7v1.7h-18.7zM519.7 483.9h17v1.7h-17zM536.7 482.2h18.7v1.7h-18.7zM555.4 480.5h18.7v1.7h-18.7zM574.1 478.8h17v1.7h-17zM591.1 477.1h18.7v1.7h-18.7zM609.8 475.4h17v1.7h-17zM626.8 473.7h18.7v1.7h-18.7zM645.5 472h6.8v1.7h-6.8z"/>
<path class="gf" d="M196.7 567.2h8.5v1.7h-8.5zM205.2 565.5h18.7v1.7h-18.7zM223.9 563.8h17v1.7h-17zM240.9 562.1h18.7v1.7h-18.7zM259.6 560.4h17v1.7h-17zM276.6 558.7h18.7v1.7h-18.7zM295.3 557h17v1.7h-17zM312.3 555.3h18.7v1.7h-18.7zM331 553.6h18.7v1.7h-18.7zM349.7 551.9h17v1.7h-17zM366.7 550.2h18.7v1.7h-18.7zM385.4 548.5h17v1.7h-17zM402.4 546.8h18.7v1.7h-18.7zM421.1 545.1h17v1.7h-17zM438.1 543.4h18.7v1.7h-18.7zM456.8 541.7h18.7v1.7h-18.7zM475.5 540h17v1.7h-17zM492.5 538.3h18.7v1.7h-18.7zM511.2 536.6h17v1.7h-17zM528.2 534.9h18.7v1.7h-18.7zM546.9 533.2h17v1.7h-17zM563.9 531.5h18.7v1.7h-18.7zM582.6 529.8h18.7v1.7h-18.7zM601.3 528.1h17v1.7h-17zM618.3 526.4h18.7v1.7h-18.7zM637 524.7h17v1.7h-17zM654 523h18.7v1.7h-18.7zM672.7 521.3h17v1.7h-17zM689.7 519.6h18.7v1.7h-18.7zM708.4 517.9h3.4v1.7h-3.4z"/>
</g>
<g id="box">
<path class="bf" d="M76 79.3h15.3v1.7h-15.3zM91.3 77.6h18.7v1.7h-18.7zM110 75.9h17v1.7h-17zM127 74.2h18.7v1.7h-18.7zM145.7 72.5h17v1.7h-17zM162.7 70.8h18.7v1.7h-18.7zM181.4 69.1h17v1.7h-17zM198.4 67.4h18.7v1.7h-18.7zM217.1 65.7h18.7v1.7h-18.7zM235.8 64h17v1.7h-17zM252.8 62.3h18.7v1.7h-18.7zM271.5 60.6h17v1.7h-17zM288.5 58.9h18.7v1.7h-18.7zM307.2 57.2h17v1.7h-17zM324.2 55.5h18.7v1.7h-18.7zM342.9 53.8h18.7v1.7h-18.7zM361.6 52.1h17v1.7h-17zM378.6 50.4h18.7v1.7h-18.7zM397.3 48.7h17v1.7h-17zM414.3 47h18.7v1.7h-18.7zM433 45.3h17v1.7h-17zM450 43.6h18.7v1.7h-18.7zM468.7 41.9h18.7v1.7h-18.7zM487.4 40.2h17v1.7h-17zM504.4 38.5h18.7v1.7h-18.7zM523.1 36.8h17v1.7h-17zM540.1 35.1h18.7v1.7h-18.7zM558.8 33.4h17v1.7h-17zM575.8 31.7h15.3v1.7h-15.3z"/>
<path class="bf" d="M589.4 31.7h3.4v1.7h-3.4zM592.8 33.4h1.7v1.7h-1.7zM594.5 35.1h1.7v1.7h-1.7zM596.2 36.8h1.7v1.7h-1.7zM597.9 38.5h3.4v1.7h-3.4zM601.3 40.2h1.7v1.7h-1.7zM603 41.9h1.7v1.7h-1.7zM604.7 43.6h3.4v1.7h-3.4zM608.1 45.3h1.7v1.7h-1.7zM609.8 47h1.7v1.7h-1.7zM611.5 48.7h3.4v1.7h-3.4zM614.9 50.4h1.7v1.7h-1.7zM616.6 52.1h1.7v1.7h-1.7zM618.3 53.8h3.4v1.7h-3.4zM621.7 55.5h1.7v1.7h-1.7zM623.4 57.2h1.7v1.7h-1.7zM625.1 58.9h1.7v1.7h-1.7zM626.8 60.6h3.4v1.7h-3.4zM630.2 62.3h1.7v1.7h-1.7zM631.9 64h1.7v1.7h-1.7zM633.6 65.7h3.4v1.7h-3.4zM637 67.4h1.7v1.7h-1.7zM638.7 69.1h1.7v1.7h-1.7zM640.4 70.8h3.4v1.7h-3.4zM643.8 72.5h1.7v1.7h-1.7zM645.5 74.2h1.7v1.7h-1.7zM647.2 75.9h3.4v1.7h-3.4zM650.6 77.6h1.7v1.7h-1.7zM652.3 79.3h1.7v1.7h-1.7zM654 81h3.4v1.7h-3.4zM657.4 82.7h1.7v1.7h-1.7zM659.1 84.4h1.7v1.7h-1.7zM660.8 86.1h1.7v1.7h-1.7zM662.5 87.8h3.4v1.7h-3.4zM665.9 89.5h1.7v1.7h-1.7zM667.6 91.2h1.7v1.7h-1.7zM669.3 92.9h3.4v1.7h-3.4zM672.7 94.6h1.7v1.7h-1.7zM674.4 96.3h1.7v1.7h-1.7zM676.1 98h3.4v1.7h-3.4zM679.5 99.7h1.7v1.7h-1.7zM681.2 101.4h1.7v1.7h-1.7zM682.9 103.1h3.4v1.7h-3.4zM686.3 104.8h1.7v1.7h-1.7zM688 106.5h1.7v1.7h-1.7zM689.7 108.2h1.7v1.7h-1.7zM691.4 109.9h3.4v1.7h-3.4zM694.8 111.6h1.7v1.7h-1.7zM696.5 113.3h1.7v1.7h-1.7zM698.2 115h3.4v1.7h-3.4zM701.6 116.7h1.7v1.7h-1.7zM703.3 118.4h1.7v1.7h-1.7zM705 120.1h3.4v1.7h-3.4zM708.4 121.8h1.7v1.7h-1.7zM710.1 123.5h1.7v1.7h-1.7zM711.8 125.2h3.4v1.7h-3.4zM715.2 126.9h1.7v1.7h-1.7zM716.9 128.6h1.7v1.7h-1.7zM718.6 130.3h1.7v1.7h-1.7zM720.3 132h3.4v1.7h-3.4zM723.7 133.7h1.7v1.7h-1.7zM725.4 135.4h1.7v1.7h-1.7zM727.1 137.1h3.4v1.7h-3.4zM730.5 138.8h1.7v1.7h-1.7zM732.2 140.5h1.7v1.7h-1.7zM733.9 142.2h3.4v1.7h-3.4zM737.3 143.9h1.7v1.7h-1.7zM739 145.6h1.7v1.7h-1.7zM740.7 147.3h3.4v1.7h-3.4zM744.1 149h1.7v1.7h-1.7zM745.8 150.7h1.7v1.7h-1.7zM747.5 152.4h3.4v1.7h-3.4zM750.9 154.1h1.7v1.7h-1.7zM752.6 155.8h1.7v1.7h-1.7zM754.3 157.5h1.7v1.7h-1.7zM756 159.2h3.4v1.7h-3.4zM759.4 160.9h1.7v1.7h-1.7zM761.1 162.6h1.7v1.7h-1.7zM762.8 164.3h3.4v1.7h-3.4zM766.2 166h1.7v1.7h-1.7zM767.9 167.7h1.7v1.7h-1.7zM769.6 169.4h3.4v1.7h-3.4z"/>
<path class="bf" d="M76 79.3h1.7v397.8h-1.7z"/>
<path class="bf" d="M589.4 31.7h1.7v396.1h-1.7z"/>
<path class="bf" d="M771.3 169.4h1.7v396.1h-1.7z"/>
<path class="bf" d="M76 475.4h3.4v1.7h-3.4zM79.4 473.7h17v1.7h-17zM96.4 472h18.7v1.7h-18.7zM115.1 470.3h17v1.7h-17zM132.1 468.6h18.7v1.7h-18.7zM150.8 466.9h17v1.7h-17zM167.8 465.2h18.7v1.7h-18.7zM186.5 463.5h18.7v1.7h-18.7zM205.2 461.8h17v1.7h-17zM222.2 460.1h18.7v1.7h-18.7zM240.9 458.4h17v1.7h-17zM257.9 456.7h18.7v1.7h-18.7zM276.6 455h17v1.7h-17zM293.6 453.3h18.7v1.7h-18.7zM312.3 451.6h18.7v1.7h-18.7zM331 449.9h17v1.7h-17zM348 448.2h18.7v1.7h-18.7zM366.7 446.5h17v1.7h-17zM383.7 444.8h18.7v1.7h-18.7zM402.4 443.1h17v1.7h-17zM419.4 441.4h18.7v1.7h-18.7zM438.1 439.7h18.7v1.7h-18.7zM456.8 438h17v1.7h-17zM473.8 436.3h18.7v1.7h-18.7zM492.5 434.6h17v1.7h-17zM509.5 432.9h18.7v1.7h-18.7zM528.2 431.2h17v1.7h-17zM545.2 429.5h18.7v1.7h-18.7zM563.9 427.8h18.7v1.7h-18.7zM582.6 426.1h8.5v1.7h-8.5z"/>
<path class="bf" d="M589.4 426.1h1.7v1.7h-1.7zM591.1 427.8h1.7v1.7h-1.7zM592.8 429.5h3.4v1.7h-3.4zM596.2 431.2h1.7v1.7h-1.7zM597.9 432.9h1.7v1.7h-1.7zM599.6 434.6h3.4v1.7h-3.4zM603 436.3h1.7v1.7h-1.7zM604.7 438h1.7v1.7h-1.7zM606.4 439.7h3.4v1.7h-3.4zM609.8 441.4h1.7v1.7h-1.7zM611.5 443.1h1.7v1.7h-1.7zM613.2 444.8h3.4v1.7h-3.4zM616.6 446.5h1.7v1.7h-1.7zM618.3 448.2h1.7v1.7h-1.7zM620 449.9h1.7v1.7h-1.7zM621.7 451.6h3.4v1.7h-3.4zM625.1 453.3h1.7v1.7h-1.7zM626.8 455h1.7v1.7h-1.7zM628.5 456.7h3.4v1.7h-3.4zM631.9 458.4h1.7v1.7h-1.7zM633.6 460.1h1.7v1.7h-1.7zM635.3 461.8h3.4v1.7h-3.4zM638.7 463.5h1.7v1.7h-1.7zM640.4 465.2h1.7v1.7h-1.7zM642.1 466.9h3.4v1.7h-3.4zM645.5 468.6h1.7v1.7h-1.7zM647.2 470.3h1.7v1.7h-1.7zM648.9 472h3.4v1.7h-3.4zM652.3 473.7h1.7v1.7h-1.7zM654 475.4h1.7v1.7h-1.7zM655.7 477.1h1.7v1.7h-1.7zM657.4 478.8h3.4v1.7h-3.4zM660.8 480.5h1.7v1.7h-1.7zM662.5 482.2h1.7v1.7h-1.7zM664.2 483.9h3.4v1.7h-3.4zM667.6 485.6h1.7v1.7h-1.7zM669.3 487.3h1.7v1.7h-1.7zM671 489h3.4v1.7h-3.4zM674.4 490.7h1.7v1.7h-1.7zM676.1 492.4h1.7v1.7h-1.7zM677.8 494.1h3.4v1.7h-3.4zM681.2 495.8h1.7v1.7h-1.7zM682.9 497.5h1.7v1.7h-1.7zM684.6 499.2h1.7v1.7h-1.7zM686.3 500.9h3.4v1.7h-3.4zM689.7 502.6h1.7v1.7h-1.7zM691.4 504.3h1.7v1.7h-1.7zM693.1 506h3.4v1.7h-3.4zM696.5 507.7h1.7v1.7h-1.7zM698.2 509.4h1.7v1.7h-1.7zM699.9 511.1h3.4v1.7h-3.4zM703.3 512.8h1.7v1.7h-1.7zM705 514.5h1.7v1.7h-1.7zM706.7 516.2h3.4v1.7h-3.4zM710.1 517.9h1.7v1.7h-1.7zM711.8 519.6h1.7v1.7h-1.7zM713.5 521.3h1.7v1.7h-1.7zM715.2 523h3.4v1.7h-3.4zM718.6 524.7h1.7v1.7h-1.7zM720.3 526.4h1.7v1.7h-1.7zM722 528.1h3.4v1.7h-3.4zM725.4 529.8h1.7v1.7h-1.7zM727.1 531.5h1.7v1.7h-1.7zM728.8 533.2h3.4v1.7h-3.4zM732.2 534.9h1.7v1.7h-1.7zM733.9 536.6h1.7v1.7h-1.7zM735.6 538.3h3.4v1.7h-3.4zM739 540h1.7v1.7h-1.7zM740.7 541.7h1.7v1.7h-1.7zM742.4 543.4h3.4v1.7h-3.4zM745.8 545.1h1.7v1.7h-1.7zM747.5 546.8h1.7v1.7h-1.7zM749.2 548.5h1.7v1.7h-1.7zM750.9 550.2h3.4v1.7h-3.4zM754.3 551.9h1.7v1.7h-1.7zM756 553.6h1.7v1.7h-1.7zM757.7 555.3h3.4v1.7h-3.4zM761.1 557h1.7v1.7h-1.7zM762.8 558.7h1.7v1.7h-1.7zM764.5 560.4h3.4v1.7h-3.4zM767.9 562.1h1.7v1.7h-1.7zM769.6 563.8h1.7v1.7h-1.7zM771.3 565.5h1.7v1.7h-1.7z"/>
<path class="bf" d="M76 475.4h3.4v1.7h-3.4zM79.4 477.1h1.7v1.7h-1.7zM81.1 478.8h1.7v1.7h-1.7zM82.8 480.5h1.7v1.7h-1.7zM84.5 482.2h3.4v1.7h-3.4zM87.9 483.9h1.7v1.7h-1.7zM89.6 485.6h1.7v1.7h-1.7zM91.3 487.3h3.4v1.7h-3.4zM94.7 489h1.7v1.7h-1.7zM96.4 490.7h1.7v1.7h-1.7zM98.1 492.4h3.4v1.7h-3.4zM101.5 494.1h1.7v1.7h-1.7zM103.2 495.8h1.7v1.7h-1.7zM104.9 497.5h3.4v1.7h-3.4zM108.3 499.2h1.7v1.7h-1.7zM110 500.9h1.7v1.7h-1.7zM111.7 502.6h1.7v1.7h-1.7zM113.4 504.3h3.4v1.7h-3.4zM116.8 506h1.7v1.7h-1.7zM118.5 507.7h1.7v1.7h-1.7zM120.2 509.4h3.4v1.7h-3.4zM123.6 511.1h1.7v1.7h-1.7zM125.3 512.8h1.7v1.7h-1.7zM127 514.5h3.4v1.7h-3.4zM130.4 516.2h1.7v1.7h-1.7zM132.1 517.9h1.7v1.7h-1.7zM133.8 519.6h3.4v1.7h-3.4zM137.2 521.3h1.7v1.7h-1.7zM138.9 523h1.7v1.7h-1.7zM140.6 524.7h1.7v1.7h-1.7zM142.3 526.4h3.4v1.7h-3.4zM145.7 528.1h1.7v1.7h-1.7zM147.4 529.8h1.7v1.7h-1.7zM149.1 531.5h3.4v1.7h-3.4zM152.5 533.2h1.7v1.7h-1.7zM154.2 534.9h1.7v1.7h-1.7zM155.9 536.6h3.4v1.7h-3.4zM159.3 538.3h1.7v1.7h-1.7zM161 540h1.7v1.7h-1.7zM162.7 541.7h3.4v1.7h-3.4zM166.1 543.4h1.7v1.7h-1.7zM167.8 545.1h1.7v1.7h-1.7zM169.5 546.8h3.4v1.7h-3.4zM172.9 548.5h1.7v1.7h-1.7zM174.6 550.2h1.7v1.7h-1.7zM176.3 551.9h1.7v1.7h-1.7zM178 553.6h3.4v1.7h-3.4zM181.4 555.3h1.7v1.7h-1.7zM183.1 557h1.7v1.7h-1.7zM184.8 558.7h3.4v1.7h-3.4zM188.2 560.4h1.7v1.7h-1.7zM189.9 562.1h1.7v1.7h-1.7zM191.6 563.8h3.4v1.7h-3.4zM195 565.5h1.7v1.7h-1.7zM196.7 567.2h1.7v1.7h-1.7zM198.4 568.9h3.4v1.7h-3.4zM201.8 570.6h1.7v1.7h-1.7zM203.5 572.3h1.7v1.7h-1.7zM205.2 574h1.7v1.7h-1.7zM206.9 575.7h3.4v1.7h-3.4zM210.3 577.4h1.7v1.7h-1.7zM212 579.1h1.7v1.7h-1.7zM213.7 580.8h3.4v1.7h-3.4zM217.1 582.5h1.7v1.7h-1.7zM218.8 584.2h1.7v1.7h-1.7zM220.5 585.9h3.4v1.7h-3.4zM223.9 587.6h1.7v1.7h-1.7zM225.6 589.3h1.7v1.7h-1.7zM227.3 591h3.4v1.7h-3.4zM230.7 592.7h1.7v1.7h-1.7zM232.4 594.4h1.7v1.7h-1.7zM234.1 596.1h3.4v1.7h-3.4zM237.5 597.8h1.7v1.7h-1.7zM239.2 599.5h1.7v1.7h-1.7zM240.9 601.2h1.7v1.7h-1.7zM242.6 602.9h3.4v1.7h-3.4zM246 604.6h1.7v1.7h-1.7zM247.7 606.3h1.7v1.7h-1.7zM249.4 608h3.4v1.7h-3.4zM252.8 609.7h1.7v1.7h-1.7zM254.5 611.4h1.7v1.7h-1.7zM256.2 613.1h3.4v1.7h-3.4z"/>
<path class="bf" d="M257.9 613.1h10.2v1.7h-10.2zM268.1 611.4h18.7v1.7h-18.7zM286.8 609.7h17v1.7h-17zM303.8 608h18.7v1.7h-18.7zM322.5 606.3h18.7v1.7h-18.7zM341.2 604.6h17v1.7h-17zM358.2 602.9h18.7v1.7h-18.7zM376.9 601.2h17v1.7h-17zM393.9 599.5h18.7v1.7h-18.7zM412.6 597.8h17v1.7h-17zM429.6 596.1h18.7v1.7h-18.7zM448.3 594.4h18.7v1.7h-18.7zM467 592.7h17v1.7h-17zM484 591h18.7v1.7h-18.7zM502.7 589.3h17v1.7h-17zM519.7 587.6h18.7v1.7h-18.7zM538.4 585.9h17v1.7h-17zM555.4 584.2h18.7v1.7h-18.7zM574.1 582.5h18.7v1.7h-18.7zM592.8 580.8h17v1.7h-17zM609.8 579.1h18.7v1.7h-18.7zM628.5 577.4h17v1.7h-17zM645.5 575.7h18.7v1.7h-18.7zM664.2 574h17v1.7h-17zM681.2 572.3h18.7v1.7h-18.7zM699.9 570.6h18.7v1.7h-18.7zM718.6 568.9h17v1.7h-17zM735.6 567.2h18.7v1.7h-18.7zM754.3 565.5h18.7v1.7h-18.7z"/>
</g>
<g id="ticks">
<path class="bf" d="M65.8 468.6h3.4v1.7h-3.4zM69.2 470.3h3.4v1.7h-3.4zM72.6 472h1.7v1.7h-1.7zM74.3 473.7h1.7v1.7h-1.7zM76 475.4h1.7v1.7h-1.7z"/>
<path class="bf" d="M65.8 388.7h3.4v1.7h-3.4zM69.2 390.4h1.7v1.7h-1.7zM70.9 392.1h1.7v1.7h-1.7zM72.6 393.8h1.7v1.7h-1.7zM74.3 395.5h3.4v1.7h-3.4z"/>
<path class="bf" d="M65.8 310.5h3.4v1.7h-3.4zM69.2 312.2h1.7v1.7h-1.7zM70.9 313.9h3.4v1.7h-3.4zM74.3 315.6h1.7v1.7h-1.7zM76 317.3h1.7v1.7h-1.7z"/>
<path class="bf" d="M65.8 230.6h1.7v1.7h-1.7zM67.5 232.3h3.4v1.7h-3.4zM70.9 234h1.7v1.7h-1.7zM72.6 235.7h1.7v1.7h-1.7zM74.3 237.4h3.4v1.7h-3.4z"/>
<path class="bf" d="M65.8 152.4h3.4v1.7h-3.4zM69.2 154.1h1.7v1.7h-1.7zM70.9 155.8h3.4v1.7h-3.4zM74.3 157.5h1.7v1.7h-1.7zM76 159.2h1.7v1.7h-1.7z"/>
<path class="bf" d="M65.8 72.5h1.7v1.7h-1.7zM67.5 74.2h3.4v1.7h-3.4zM70.9 75.9h1.7v1.7h-1.7zM72.6 77.6h1.7v1.7h-1.7zM74.3 79.3h3.4v1.7h-3.4z"/>
<path class="bf" d="M64.1 475.4h13.6v1.7h-13.6z"/>
<path class="bf" d="M125.3 521.3h11.9v1.7h-11.9z"/>
<path class="bf" d="M184.8 568.9h1.7v1.7h-1.7zM186.5 567.2h11.9v1.7h-11.9z"/>
<path class="bf" d="M246 614.8h5.1v1.7h-5.1zM251.1 613.1h8.5v1.7h-8.5z"/>
<path class="bf" d="M257.9 613.1h1.7v1.7h-1.7zM259.6 614.8h1.7v1.7h-1.7zM261.3 616.5h1.7v1.7h-1.7zM263 618.2h3.4v1.7h-3.4zM266.4 619.9h1.7v1.7h-1.7z"/>
<path class="bf" d="M359.9 602.9h1.7v1.7h-1.7zM361.6 604.6h1.7v1.7h-1.7zM363.3 606.3h1.7v1.7h-1.7zM365 608h3.4v1.7h-3.4zM368.4 609.7h1.7v1.7h-1.7z"/>
<path class="bf" d="M461.9 594.4h3.4v1.7h-3.4zM465.3 596.1h1.7v1.7h-1.7zM467 597.8h3.4v1.7h-3.4zM470.4 599.5h1.7v1.7h-1.7zM472.1 601.2h1.7v1.7h-1.7z"/>
<path class="bf" d="M565.6 584.2h1.7v1.7h-1.7zM567.3 585.9h1.7v1.7h-1.7zM569 587.6h3.4v1.7h-3.4zM572.4 589.3h1.7v1.7h-1.7zM574.1 591h1.7v1.7h-1.7z"/>
<path class="bf" d="M667.6 574h1.7v1.7h-1.7zM669.3 575.7h1.7v1.7h-1.7zM671 577.4h3.4v1.7h-3.4zM674.4 579.1h1.7v1.7h-1.7zM676.1 580.8h3.4v1.7h-3.4z"/>
<path class="bf" d="M771.3 565.5h3.4v1.7h-3.4zM774.7 567.2h1.7v1.7h-1.7zM776.4 568.9h1.7v1.7h-1.7zM778.1 570.6h1.7v1.7h-1.7zM779.8 572.3h1.7v1.7h-1.7z"/>
</g>
<g id="ticklabels" class="tl">
<text transform="translate(57.6 472.6) scale(1.0 1.0)" text-anchor="end">-3</text>
<text transform="translate(57.6 393.62) scale(1.0 1.0)" text-anchor="end">-2</text>
<text transform="translate(57.6 314.64) scale(1.0 1.0)" text-anchor="end">-1</text>
<text transform="translate(57.6 235.66) scale(1.0 1.0)" text-anchor="end">0</text>
<text transform="translate(57.6 156.68) scale(1.0 1.0)" text-anchor="end">1</text>
<text transform="translate(57.6 77.7) scale(1.0 1.0)" text-anchor="end">2</text>
<text transform="translate(53.1 501.8) scale(1.0 1.0)" text-anchor="end">1</text>
<text transform="translate(113.57 547.97) scale(1.0 1.0)" text-anchor="end">0</text>
<text transform="translate(174.03 594.13) scale(1.0 1.0)" text-anchor="end">-1</text>
<text transform="translate(234.5 640.3) scale(1.0 1.0)" text-anchor="end">-2</text>
<text transform="translate(274.6 650.8) scale(1.0 1.0)">-1.5</text>
<text transform="translate(377.34 641.08) scale(1.0 1.0)">-1</text>
<text transform="translate(480.08 631.36) scale(1.0 1.0)">-0.5</text>
<text transform="translate(582.82 621.64) scale(1.0 1.0)">0</text>
<text transform="translate(685.56 611.92) scale(1.0 1.0)">0.5</text>
<text transform="translate(788.3 602.2) scale(1.0 1.0)">1</text>
</g>
<text class="al" x="527" y="669" text-anchor="middle">PC1-(80%)</text>
<text class="al" x="96.6" y="645.9" text-anchor="middle">PC2-(7%)</text>
<text class="al" transform="translate(19.6 278.1) rotate(-90) scale(1.022 1)" text-anchor="middle">PC3-(4%)</text>
<text class="ti" x="424.5" y="19.4" text-anchor="middle">Cell Differentiation Gene Expression on Substrates</text>
<g id="data">
<circle cx="569.2" cy="236.7" r="6.05" fill="#0000ff"/>
<circle cx="645.6" cy="232.9" r="6.05" fill="#0000ff"/>
<circle cx="697.1" cy="267.6" r="6.05" fill="#0000ff"/>
<circle cx="576.7" cy="245" r="6.05" fill="#00ff00"/>
<circle cx="590.3" cy="268.8" r="6.05" fill="#00ff00"/>
<circle cx="682" cy="312.6" r="6.05" fill="#00ff00"/>
<circle cx="165.8" cy="203.3" r="6.05" fill="#ff00ff"/>
<circle cx="195.6" cy="226.3" r="6.05" fill="#ff00ff"/>
<circle cx="261.7" cy="444.3" r="6.05" fill="#ff00ff"/>
<circle cx="578.2" cy="180.1" r="6.05" fill="#00ffff"/>
<circle cx="567.7" cy="186.4" r="6.05" fill="#00ffff"/>
<circle cx="575.2" cy="219.8" r="6.05" fill="#00ffff"/>
<path class="st" stroke="#ff00ff" d="M125.1 149.8H161.1M143.1 133.8V167.8M130.37 137.07L155.83 162.53M130.37 162.53L155.83 137.07"/>
<path class="st" stroke="#ff00ff" d="M155.5 178.7H191.5M173.5 162.7V196.7M160.77 165.97L186.23 191.43M160.77 191.43L186.23 165.97"/>
<path class="st" stroke="#ff00ff" d="M228.9 479.1H264.9M246.9 463.1V497.1M234.17 466.37L259.63 491.83M234.17 491.83L259.63 466.37"/>
</g>
<g id="legend">
<rect x="833.2" y="34.5" width="159.7" height="144" fill="#fff" stroke="#262626" stroke-width="1.6"/>
<circle cx="874.8" cy="50.2" r="5.8" fill="#0000ff"/>
<circle cx="874.8" cy="77.9" r="5.8" fill="#00ff00"/>
<circle cx="874.8" cy="105.7" r="5.8" fill="#ff00ff"/>
<circle cx="874.8" cy="133.4" r="5.8" fill="#00ffff"/>
<path class="st" stroke="#ff00ff" d="M854.6 161.7H890.4M874.2 145.7V178.6M861.6 149.2L886.6 174.2M861.6 174.2L886.6 149.2"/>
<text class="lg" x="914.3" y="59">1Micron</text>
<text class="lg" x="914.3" y="86.4">2Micron</text>
<text class="lg" x="914.3" y="112.9">FLAT</text>
<text class="lg" x="914.3" y="141.2">NANO</text>
<text class="lg" x="914.3" y="168.8">TCP</text>
</g>
</g>
</svg>
</body>
</html>
